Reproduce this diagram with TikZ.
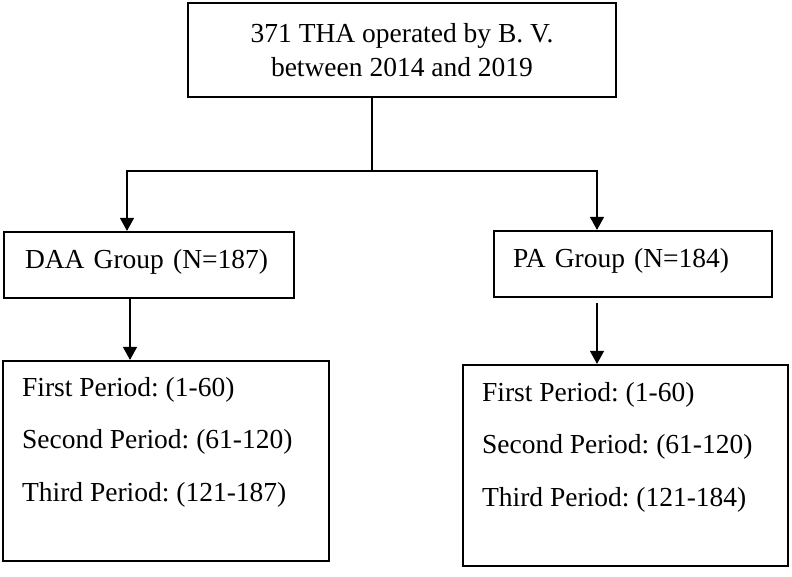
\documentclass[tikz,border=0pt]{standalone}
\usepackage{fontspec}
\setmainfont{Liberation Serif}
\usetikzlibrary{positioning,arrows.meta}
\frenchspacing

\begin{document}
\begin{tikzpicture}[x=1pt, y=-1pt,
    block/.style={rectangle, draw, line width=2.2pt, inner sep=0pt, font=\fontsize{27.5pt}{34pt}\selectfont},
    groupbox/.style={block, align=left, minimum height=66pt, text height=19pt, text depth=13pt},
    periodlist/.style={inner sep=0pt, align=left, font=\fontsize{27.5pt}{52.5pt}\selectfont},
    arrow/.style={-{Triangle[width=14pt,length=13pt]}, line width=1.2pt}]
    \useasboundingbox (0,0) rectangle (792,576);

    \node[block, align=center, minimum width=428pt, minimum height=94pt] (total) at (402,50) {371 THA operated by B. V.\\between 2014 and 2019};
    \node[groupbox, inner xsep=21pt, text width=248pt] (daa) at (149,265) {DAA Group (N=187)};
    \node[groupbox, inner xsep=19pt, text width=240pt] (pa) at (633,264) {PA Group (N=184)};
    \node[block, minimum width=326pt, minimum height=200pt] (daaper) at (166,461) {};
    \node[block, minimum width=325pt, minimum height=201pt] (paper) at (625.5,465.5) {};
    \node[periodlist, anchor=north west] (daalist) at ([xshift=20pt, yshift=-17pt]daaper.north west) {First Period: (1-60)\\Second Period: (61-120)\\Third Period: (121-187)};
    \node[periodlist, anchor=north west] (palist) at ([xshift=20pt, yshift=-18pt]paper.north west) {First Period: (1-60)\\Second Period: (61-120)\\Third Period: (121-184)};

    \coordinate (split) at (372,171);
    \coordinate (daaout) at ([xshift=-19pt]daa.south);
    \coordinate (paout) at ([xshift=-36pt, yshift=-5pt]pa.south);

    \draw[line width=1.2pt] (split |- total.south) -- (split);
    \draw[arrow] (split) -| ([xshift=-22pt]daa.north);
    \draw[arrow] (split) -| ([xshift=-36pt]pa.north);
    \draw[arrow] (daaout) -- (daaout |- daaper.north);
    \draw[arrow] (paout) -- (paout |- paper.north);
\end{tikzpicture}
\end{document}
